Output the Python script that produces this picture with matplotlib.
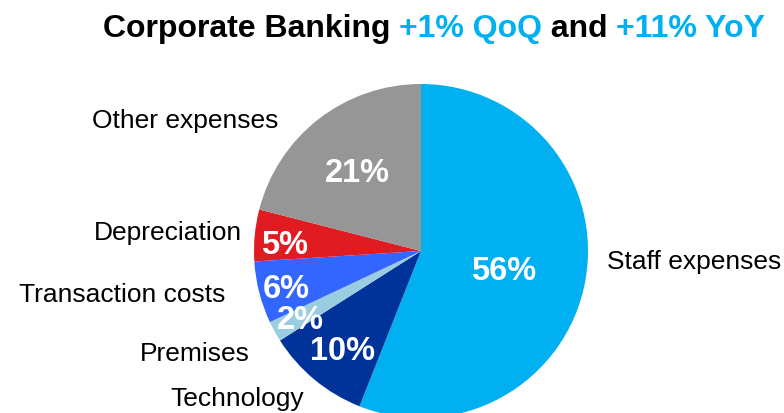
import matplotlib.pyplot as plt

plt.rcParams['font.family'] = ['Liberation Sans', 'DejaVu Sans']

# cost split, clockwise from 12 o'clock
categories = ["Staff expenses", "Technology", "Premises",
              "Transaction costs", "Depreciation", "Other expenses"]
shares = [56, 10, 2, 6, 5, 21]
colors = ["#00b0f0", "#003399", "#9acde0", "#3366ff", "#e01b22", "#969696"]

# where each name / percentage sits (pixels, y measured from the top)
name_pos = [(694, 262), (237, 399), (195, 354), (122, 295), (168, 233), (185, 121)]
pct_pos = [(504, 271), (343, 352), (300, 321), (286, 290), (285, 246), (357, 173)]

W, H = 784, 414
fig = plt.figure(figsize=(W / 100, H / 100), dpi=100)
ax = fig.add_axes([0, 0, 1, 1])

ax.pie(shares, colors=colors, startangle=90, counterclock=False,
       center=(421, H - 252), radius=167, frame=True,
       wedgeprops=dict(linewidth=0))
ax.set_xlim(0, W)
ax.set_ylim(0, H)
ax.set_aspect("auto")
ax.axis("off")

for name, (x, y) in zip(categories, name_pos):
    ax.text(x, H - y, name, ha="center", va="center", fontsize=19, color="black")

for v, (x, y) in zip(shares, pct_pos):
    ax.text(x, H - y, f"{v}%", ha="center", va="center", fontsize=23.5,
            fontweight="bold", color="white")

# title in three colour runs, laid out side by side
title_parts = [("Corporate Banking ", "black"), ("+1% QoQ", "#00b0f0"),
               (" and ", "black"), ("+11% YoY", "#00b0f0")]
fig.canvas.draw()
rend = fig.canvas.get_renderer()
pieces = []
for txt, col in title_parts:
    t = fig.text(0, 0, txt, fontsize=23, fontweight="bold", color=col,
                 va="baseline")
    pieces.append(t)
widths = [t.get_window_extent(rend).width for t in pieces]
x = 434 - sum(widths) / 2
for t, w in zip(pieces, widths):
    t.set_position((x / W, 1 - 37 / H))
    x += w

fig.savefig("out.png", dpi=100)
